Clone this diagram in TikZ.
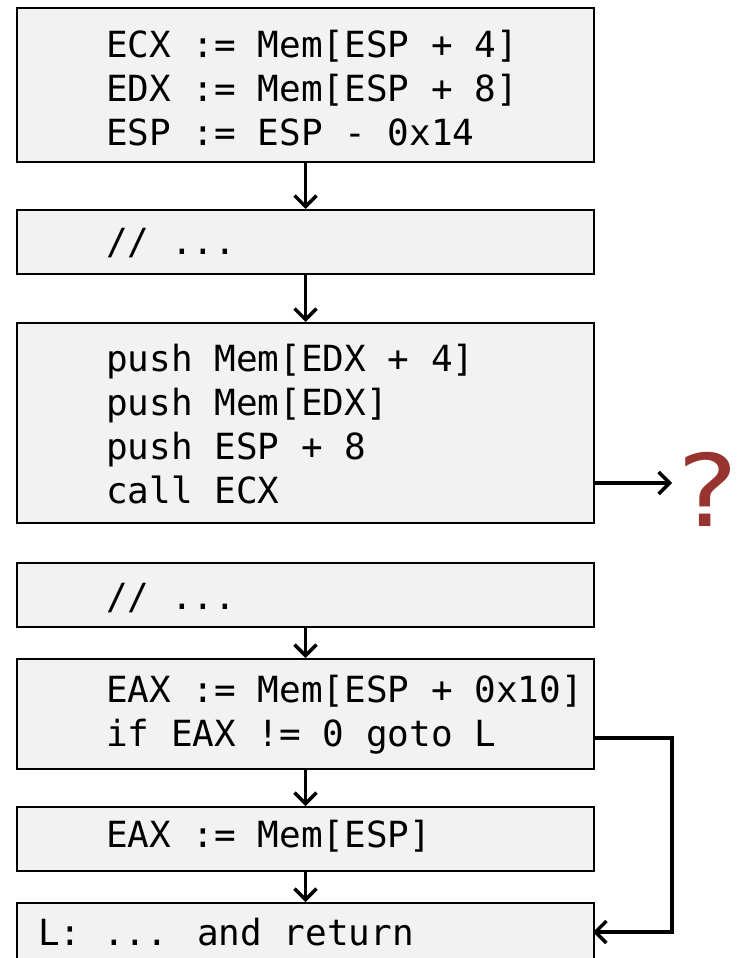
\documentclass[tikz,border=0pt]{standalone}
\usepackage{fontspec}
\usepackage{graphicx}
\usetikzlibrary{arrows.meta}
\newfontfamily\codefont{DejaVu Sans Mono}
\newfontfamily\markfont{DejaVu Sans}
\definecolor{boxgray}{RGB}{242,242,242}
\definecolor{qred}{RGB}{152,52,48}
\tikzset{
  block/.style={draw=black, line width=2pt, fill=boxgray, rectangle,
    minimum width=577pt, inner sep=0pt, anchor=north west},
  code/.style={font=\codefont\fontsize{36}{44}\selectfont, align=left,
    anchor=west, inner sep=0pt},
  flow/.style={line width=3.5pt, -{Straight Barb[length=11pt, width=22pt, line width=3.5pt]}},
}
\begin{document}
\begin{tikzpicture}[x=1pt, y=-1pt]
  \useasboundingbox (0,0) rectangle (742,958);
  \clip (0,0) rectangle (742,958);

  % basic blocks
  \node[block, minimum height=154pt] (b1) at (16,7) {};
  \node[block, minimum height=64pt]  (b2) at (16,209) {};
  \node[block, minimum height=200pt] (b3) at (16,322) {};
  \node[block, minimum height=64pt]  (b4) at (16,562) {};
  \node[block, minimum height=110pt] (b5) at (16,658) {};
  \node[block, minimum height=64pt]  (b6) at (16,806) {};
  \node[block, minimum height=80pt]  (b7) at (16,902) {};

  % block contents
  \node[code] (t1) at (106,88) {ECX := Mem[ESP + 4]\\EDX := Mem[ESP + 8]\\ESP := ESP - 0x14};
  \node[code] (t2) at (106,243) {// ...};
  \node[code] (t3) at (106,424) {push Mem[EDX + 4]\\push Mem[EDX]\\push ESP + 8\\call ECX};
  \node[code] (t4) at (106,598) {// ...};
  \node[code] (t5) at (106,715) {EAX := Mem[ESP + 0x10]\\if EAX != 0 goto L};
  \node[code] (t6) at (106,836) {EAX := Mem[ESP]};
  \node[code] (t7) at (38,932) {L: ... and return};

  % unknown call target
  \coordinate (callend) at (672,483);
  \node[font=\markfont\fontsize{100}{100}\selectfont, text=qred, inner sep=0pt]
    (qm) at (708,489) {\scalebox{1.15}[1]{?}};

  % fall-through edges
  \draw[flow] (b1.south) -- (b2.north);
  \draw[flow] (b2.south) -- (b3.north);
  \draw[flow] (b4.south) -- (b5.north);
  \draw[flow] (b5.south) -- (b6.north);
  \draw[flow] (b6.south) -- (b7.north);

  % indirect call
  \draw[flow] (b3.east |- callend) -- (callend);

  % conditional jump to L
  \coordinate (jmpout) at (593,738);
  \coordinate (jmpin) at (593,932);
  \draw[flow, line width=4pt] (jmpout) -- (672,738) -- (672,932) -- (jmpin);
\end{tikzpicture}
\end{document}
